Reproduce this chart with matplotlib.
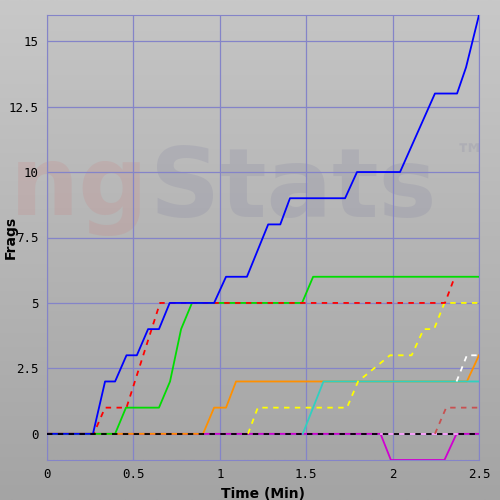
import matplotlib
matplotlib.use("Agg")
import matplotlib.pyplot as plt
import numpy as np

blue_t = [0, 0.266, 0.336, 0.394, 0.46, 0.52, 0.585, 0.648, 0.71, 0.967, 1.036, 1.157, 1.28, 1.35, 1.406, 1.725, 1.794, 2.043, 2.245, 2.373, 2.425, 2.5]
blue_v = [0, 0, 2, 2, 3, 3, 4, 4, 5, 5, 6, 6, 8, 8, 9, 9, 10, 10, 13, 13, 14, 16]
red_t = [0, 0.27, 0.336, 0.46, 0.654, 2.303, 2.36]
red_v = [0, 0, 1, 1, 5, 5, 6]
green_t = [0, 0.394, 0.457, 0.648, 0.712, 0.776, 0.839, 1.476, 1.54, 2.5]
green_v = [0, 0, 1, 1, 2, 4, 5, 5, 6, 6]
orange_t = [0, 0.903, 0.967, 1.036, 1.094, 2.43, 2.5]
orange_v = [0, 0, 1, 1, 2, 2, 3]
cyan_t = [1.48, 1.6, 2.5]
cyan_v = [0, 2, 2]
yellow_t = [1.163, 1.22, 1.736, 1.8, 1.985, 2.11, 2.18, 2.24, 2.3, 2.5]
yellow_v = [0, 1, 1, 2, 3, 3, 4, 4, 5, 5]
white_t = [2.37, 2.43, 2.5]
white_v = [2, 3, 3]
brown_t = [2.245, 2.31, 2.5]
brown_v = [0, 1, 1]
mag_t = [0, 1.93, 1.99, 2.3, 2.37, 2.5]
mag_v = [0, 0, -1, -1, 0, 0]
pink_t = [1.93, 2.37]
pink_v = [0, 0]
black_t = [0, 2.5]
black_v = [0, 0]

fig = plt.figure(figsize=(5, 5), dpi=100)
fig.patch.set_facecolor('#b0b0b0')
bg = fig.add_axes([0, 0, 1, 1], zorder=-10)
grad = np.linspace(0, 1, 256).reshape(-1, 1)
bg.imshow(grad, cmap=matplotlib.colors.LinearSegmentedColormap.from_list('g', ['#c8c8c8', '#a4a4a4']),
          aspect='auto', extent=[0, 1, 0, 1])
bg.axis('off')

ax = fig.add_axes([0.094, 0.08, 0.864, 0.89])
ax.imshow(grad, cmap=matplotlib.colors.LinearSegmentedColormap.from_list('p', ['#c4c4c4', '#a6a6a6']),
          aspect='auto', extent=[0, 2.5, -1, 16], zorder=0)
ax.text(0.02, 0.62, 'ng', transform=fig.transFigure, color='#d07070', alpha=0.16, fontsize=70,
        fontweight='bold', ha='left', va='center', zorder=1)
ax.text(0.30, 0.62, 'Stats', transform=fig.transFigure, color='#707098', alpha=0.16, fontsize=70,
        fontweight='bold', ha='left', va='center', zorder=1)
ax.text(0.91, 0.685, '™', transform=fig.transFigure, color='#707098', alpha=0.16, fontsize=22,
        fontweight='bold', ha='left', va='center', zorder=1)

ax.set_xlim(0, 2.5)
ax.set_ylim(-1, 16)
ax.set_xticks([0, 0.5, 1, 1.5, 2, 2.5])
ax.set_xticklabels(['0', '0.5', '1', '1.5', '2', '2.5'])
ax.set_yticks([0, 2.5, 5, 7.5, 10, 12.5, 15])
ax.set_yticklabels(['0', '2.5', '5', '7.5', '10', '12.5', '15'])
ax.grid(True, color='#8484c8', linewidth=0.9, zorder=2)
for s in ax.spines.values():
    s.set_color('#8484c8')
ax.tick_params(length=0, labelsize=9, colors='black', pad=6)
for lab in ax.get_xticklabels() + ax.get_yticklabels():
    lab.set_family('DejaVu Sans Mono')
ax.set_xlabel('Time (Min)', fontweight='bold', fontsize=10, labelpad=4)
ax.set_ylabel('Frags', fontweight='bold', fontsize=10)
ax.yaxis.set_label_coords(-0.068, 0.5)

lw = 1.3
ax.plot(mag_t, mag_v, color='#d000d0', lw=lw, zorder=3)
ax.plot(pink_t, pink_v, color='#ffa0ff', lw=lw, zorder=3)
ax.plot(black_t, black_v, color='black', lw=lw, ls=(0, (3, 3)), zorder=4)
ax.plot(brown_t, brown_v, color='#c85050', lw=lw, ls=(0, (3, 3)), zorder=3)
ax.plot(orange_t, orange_v, color='#ff9000', lw=lw, zorder=3)
ax.plot(cyan_t, cyan_v, color='#30d0c0', lw=lw, zorder=3)
ax.plot(yellow_t, yellow_v, color='#ffff00', lw=lw, ls=(0, (3, 3)), zorder=3)
ax.plot(white_t, white_v, color='white', lw=lw, ls=(0, (3, 3)), zorder=3)
ax.plot(green_t, green_v, color='#00dd00', lw=lw, zorder=3)
ax.plot(red_t, red_v, color='#ff0000', lw=lw, ls=(0, (3, 3)), zorder=3.5)
ax.plot(blue_t, blue_v, color='#0000ff', lw=lw, zorder=3.6)

fig.savefig('out.png', dpi=100)
